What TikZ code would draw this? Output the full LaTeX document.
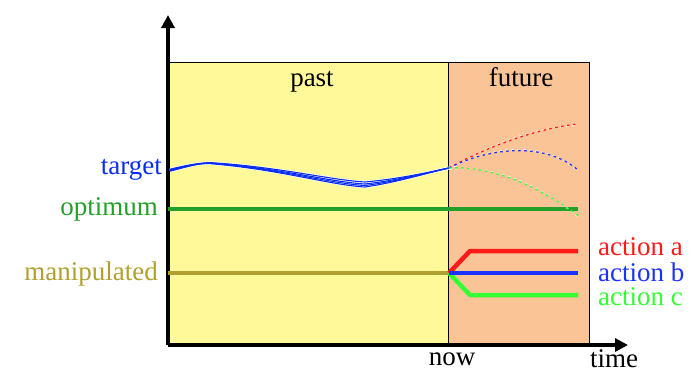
\documentclass[tikz,border=0pt]{standalone}
\usepackage{fontspec}
\setmainfont{Liberation Serif}
\usetikzlibrary{arrows.meta}
\definecolor{pastfill}{HTML}{FFF99A}
\definecolor{futfill}{HTML}{FAC497}
\definecolor{optgreen}{HTML}{22A02A}
\definecolor{manolive}{HTML}{B0A030}
\definecolor{tblue}{HTML}{0A2EF0}
\definecolor{agreen}{HTML}{33FF33}
\definecolor{ared}{HTML}{FF1A1A}
\definecolor{ablue}{HTML}{1A33FF}
\tikzset{
  lbl/.style={font=\fontsize{27}{31}\selectfont, inner sep=0pt},
  thickline/.style={line width=4.5pt},
  fut/.style={line width=1.3pt, dash pattern=on 2.5pt off 3.5pt},
  futw/.style={line width=1.3pt, dash pattern=on 2.5pt off 3.5pt, white, opacity=0.7},
  axis/.style={line width=3.4pt, -{Triangle[length=13pt,width=13pt]}},
}
\begin{document}
\begin{tikzpicture}[x=1pt,y=-1pt]
\useasboundingbox (0,0) rectangle (699,373);
% regions
\node[draw=black, line width=1pt, fill=pastfill, minimum width=280pt, minimum height=283pt, anchor=north west, inner sep=0pt] (past) at (168,62) {};
\node[draw=black, line width=1pt, fill=futfill, minimum width=141pt, minimum height=283pt, anchor=north west, inner sep=0pt] (fut) at (448,62) {};
\node[lbl, anchor=base] (pastlbl) at (312,86) {past};
\node[lbl, anchor=base] (futlbl) at (521,86) {future};
% axes
\coordinate (o) at (168,345);
\coordinate (ytop) at (168,15);
\coordinate (xend) at (628,345);
\draw[axis] (o) -- (ytop);
\draw[axis] (o) -- (xend);
\node[lbl, anchor=base] (now) at (452,365) {now};
\node[lbl, anchor=base] (time) at (614,367) {time};
% left labels
\node[lbl, anchor=east, text=tblue] (target) at (162,170) {target};
\node[lbl, anchor=east, text=optgreen] (optimum) at (158,209) {optimum};
\node[lbl, anchor=east, text=manolive] (manip) at (158,274) {manipulated};
% optimum and manipulated lines
\coordinate (optA) at (168,209);
\coordinate (optB) at (578,209);
\draw[thickline, optgreen] (optA) -- (optB);
\coordinate (manA) at (168,273);
\coordinate (nowpt) at (449,273);
\draw[thickline, manolive] (manA) -- (nowpt);
% actions
\coordinate (ra) at (470,251);
\coordinate (rb) at (578,251);
\coordinate (bb) at (578,273);
\coordinate (ga) at (470,295);
\coordinate (gb) at (578,295);
\draw[thickline, ared, line join=round] (nowpt) -- (ra) -- (rb);
\draw[thickline, agreen, line join=round] (nowpt) -- (ga) -- (gb);
\draw[thickline, ablue] (nowpt) -- (bb);
\node[lbl, anchor=west, text=ared] (acta) at (598,247) {action a};
\node[lbl, anchor=west, text=ablue] (actb) at (598,272) {action b};
\node[lbl, anchor=west, text=agreen] (actc) at (598,297) {action c};
% target history curves
\coordinate (tend) at (449,168);
\foreach \d in {-2,0,1.5,3}{
  \draw[white, line width=2.4pt] (170,{170+0.4*\d}) .. controls (190,{165+0.3*\d}) and (200,163) .. (210,{163+0.2*\d}) .. controls (280,{168+0.5*\d}) and (330,{182+\d}) .. (365,{184+\d}) .. controls (400,{180+0.6*\d}) and (430,172) .. (tend);
}
\foreach \d in {-2,0,1.5,3}{
  \draw[tblue, line width=1.1pt] (170,{170+0.4*\d}) .. controls (190,{165+0.3*\d}) and (200,163) .. (210,{163+0.2*\d}) .. controls (280,{168+0.5*\d}) and (330,{182+\d}) .. (365,{184+\d}) .. controls (400,{180+0.6*\d}) and (430,172) .. (tend);
}
% future predictions
\coordinate (redend) at (578,124);
\coordinate (blueend) at (578,170);
\coordinate (greenend) at (580,217);
\draw[futw] ([yshift=-1.5pt]tend) .. controls (490,143) and (540,126) .. ([yshift=-1.5pt]redend);
\draw[fut, ared] (tend) .. controls (490,145) and (540,128) .. (redend);
\draw[futw] ([yshift=-1.5pt]tend) .. controls (490,145) and (545,140) .. ([yshift=-1.5pt]blueend);
\draw[fut, ablue] (tend) .. controls (490,147) and (545,142) .. (blueend);
\draw[futw] ([yshift=-1.5pt]tend) .. controls (495,164) and (540,185) .. ([yshift=-1.5pt]greenend);
\draw[fut, agreen] (tend) .. controls (495,166) and (540,187) .. (greenend);
\end{tikzpicture}
\end{document}
